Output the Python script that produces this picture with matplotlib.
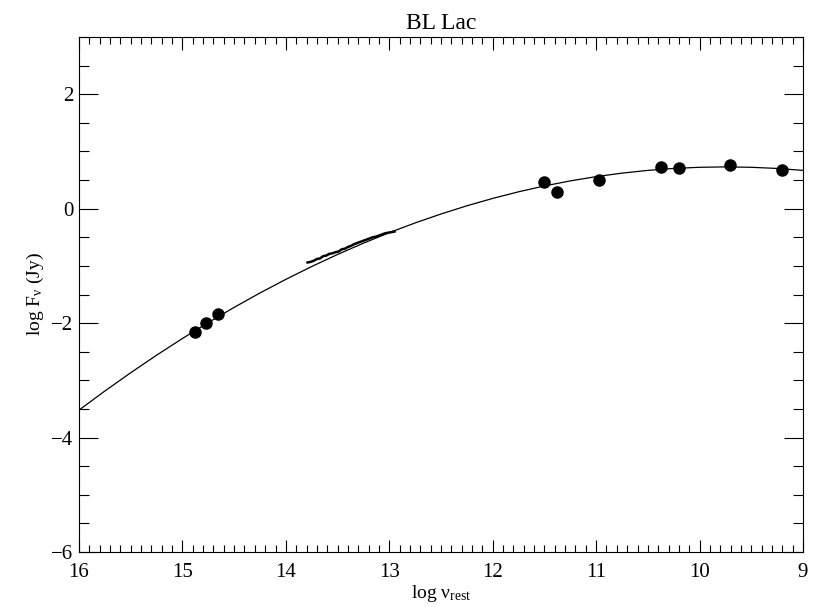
import numpy as np
import matplotlib
matplotlib.use("Agg")
import matplotlib.pyplot as plt
from matplotlib.ticker import MultipleLocator

plt.rcParams['font.family'] = ['Liberation Serif', 'DejaVu Serif']
plt.rcParams['mathtext.fontset'] = 'custom'
plt.rcParams['mathtext.rm'] = 'Liberation Serif'
plt.rcParams['mathtext.it'] = 'Liberation Serif:italic'
plt.rcParams['axes.unicode_minus'] = True

# photometric points: log nu_rest, log F_nu (Jy)
log_nu = [14.88, 14.77, 14.66, 11.50, 11.38, 10.97, 10.37, 10.20, 9.71, 9.20]
log_f = [-2.16, -2.00, -1.84, 0.47, 0.29, 0.50, 0.73, 0.71, 0.76, 0.68]

# model curve
curve_nu = [16.0, 15.75, 15.5, 15.25, 15.0, 14.75, 14.5, 14.25, 14.0, 13.75,
            13.5, 13.25, 13.0, 12.75, 12.5, 12.25, 12.0, 11.75, 11.5, 11.25,
            11.0, 10.75, 10.5, 10.25, 10.0, 9.75, 9.5, 9.25, 9.0]
curve_f = [-3.520, -3.187, -2.867, -2.561, -2.269, -1.990, -1.725, -1.473,
           -1.235, -1.011, -0.800, -0.603, -0.419, -0.249, -0.093, 0.050,
           0.179, 0.295, 0.397, 0.485, 0.560, 0.621, 0.669, 0.703, 0.723,
           0.730, 0.723, 0.703, 0.669]

# IR spectrum segment
spec_nu = [13.79, 13.76, 13.73, 13.70, 13.67, 13.64, 13.61, 13.58, 13.55, 13.52,
           13.49, 13.46, 13.43, 13.40, 13.37, 13.34, 13.31, 13.28, 13.25, 13.22,
           13.19, 13.16, 13.13, 13.10, 13.07, 13.04, 13.01, 12.98, 12.95]
spec_f = [-0.94, -0.93, -0.91, -0.88, -0.87, -0.83, -0.82, -0.79, -0.78, -0.76,
          -0.75, -0.71, -0.70, -0.67, -0.65, -0.62, -0.60, -0.58, -0.56, -0.54,
          -0.52, -0.50, -0.49, -0.47, -0.45, -0.43, -0.42, -0.41, -0.40]

fig = plt.figure(figsize=(8.23, 6.07), dpi=100)
ax = fig.add_axes([79/823, 1-552/607, (803-79)/823, (552-37)/607])

ax.plot(curve_nu, curve_f, color='black', lw=0.9)
ax.plot(spec_nu, spec_f, color='black', lw=1.8)
ax.plot(log_nu, log_f, 'o', color='black', ms=8)

ax.set_xlim(16, 9)
ax.set_ylim(-6, 3)
ax.xaxis.set_major_locator(MultipleLocator(1))
ax.xaxis.set_minor_locator(MultipleLocator(0.1))
ax.yaxis.set_major_locator(MultipleLocator(2))
ax.yaxis.set_minor_locator(MultipleLocator(0.5))
ax.tick_params(axis='x', which='major', direction='in', length=9, width=0.8,
               top=True, labelsize=15, pad=8)
ax.tick_params(axis='x', which='minor', direction='in', length=5, width=0.8, top=True)
ax.tick_params(axis='y', which='major', direction='in', length=14, width=0.8,
               right=True, labelsize=15, pad=4)
ax.tick_params(axis='y', which='minor', direction='in', length=7, width=0.8, right=True)
for s in ax.spines.values():
    s.set_linewidth(0.8)

ax.set_title('BL Lac', fontsize=17, pad=6)
ax.set_xlabel(r'log $\mathrm{\nu_{rest}}$', fontsize=14, labelpad=1)
ax.set_ylabel(r'log F$_\mathrm{\nu}$ (Jy)', fontsize=14, labelpad=4)

fig.savefig('out.png', dpi=100)
